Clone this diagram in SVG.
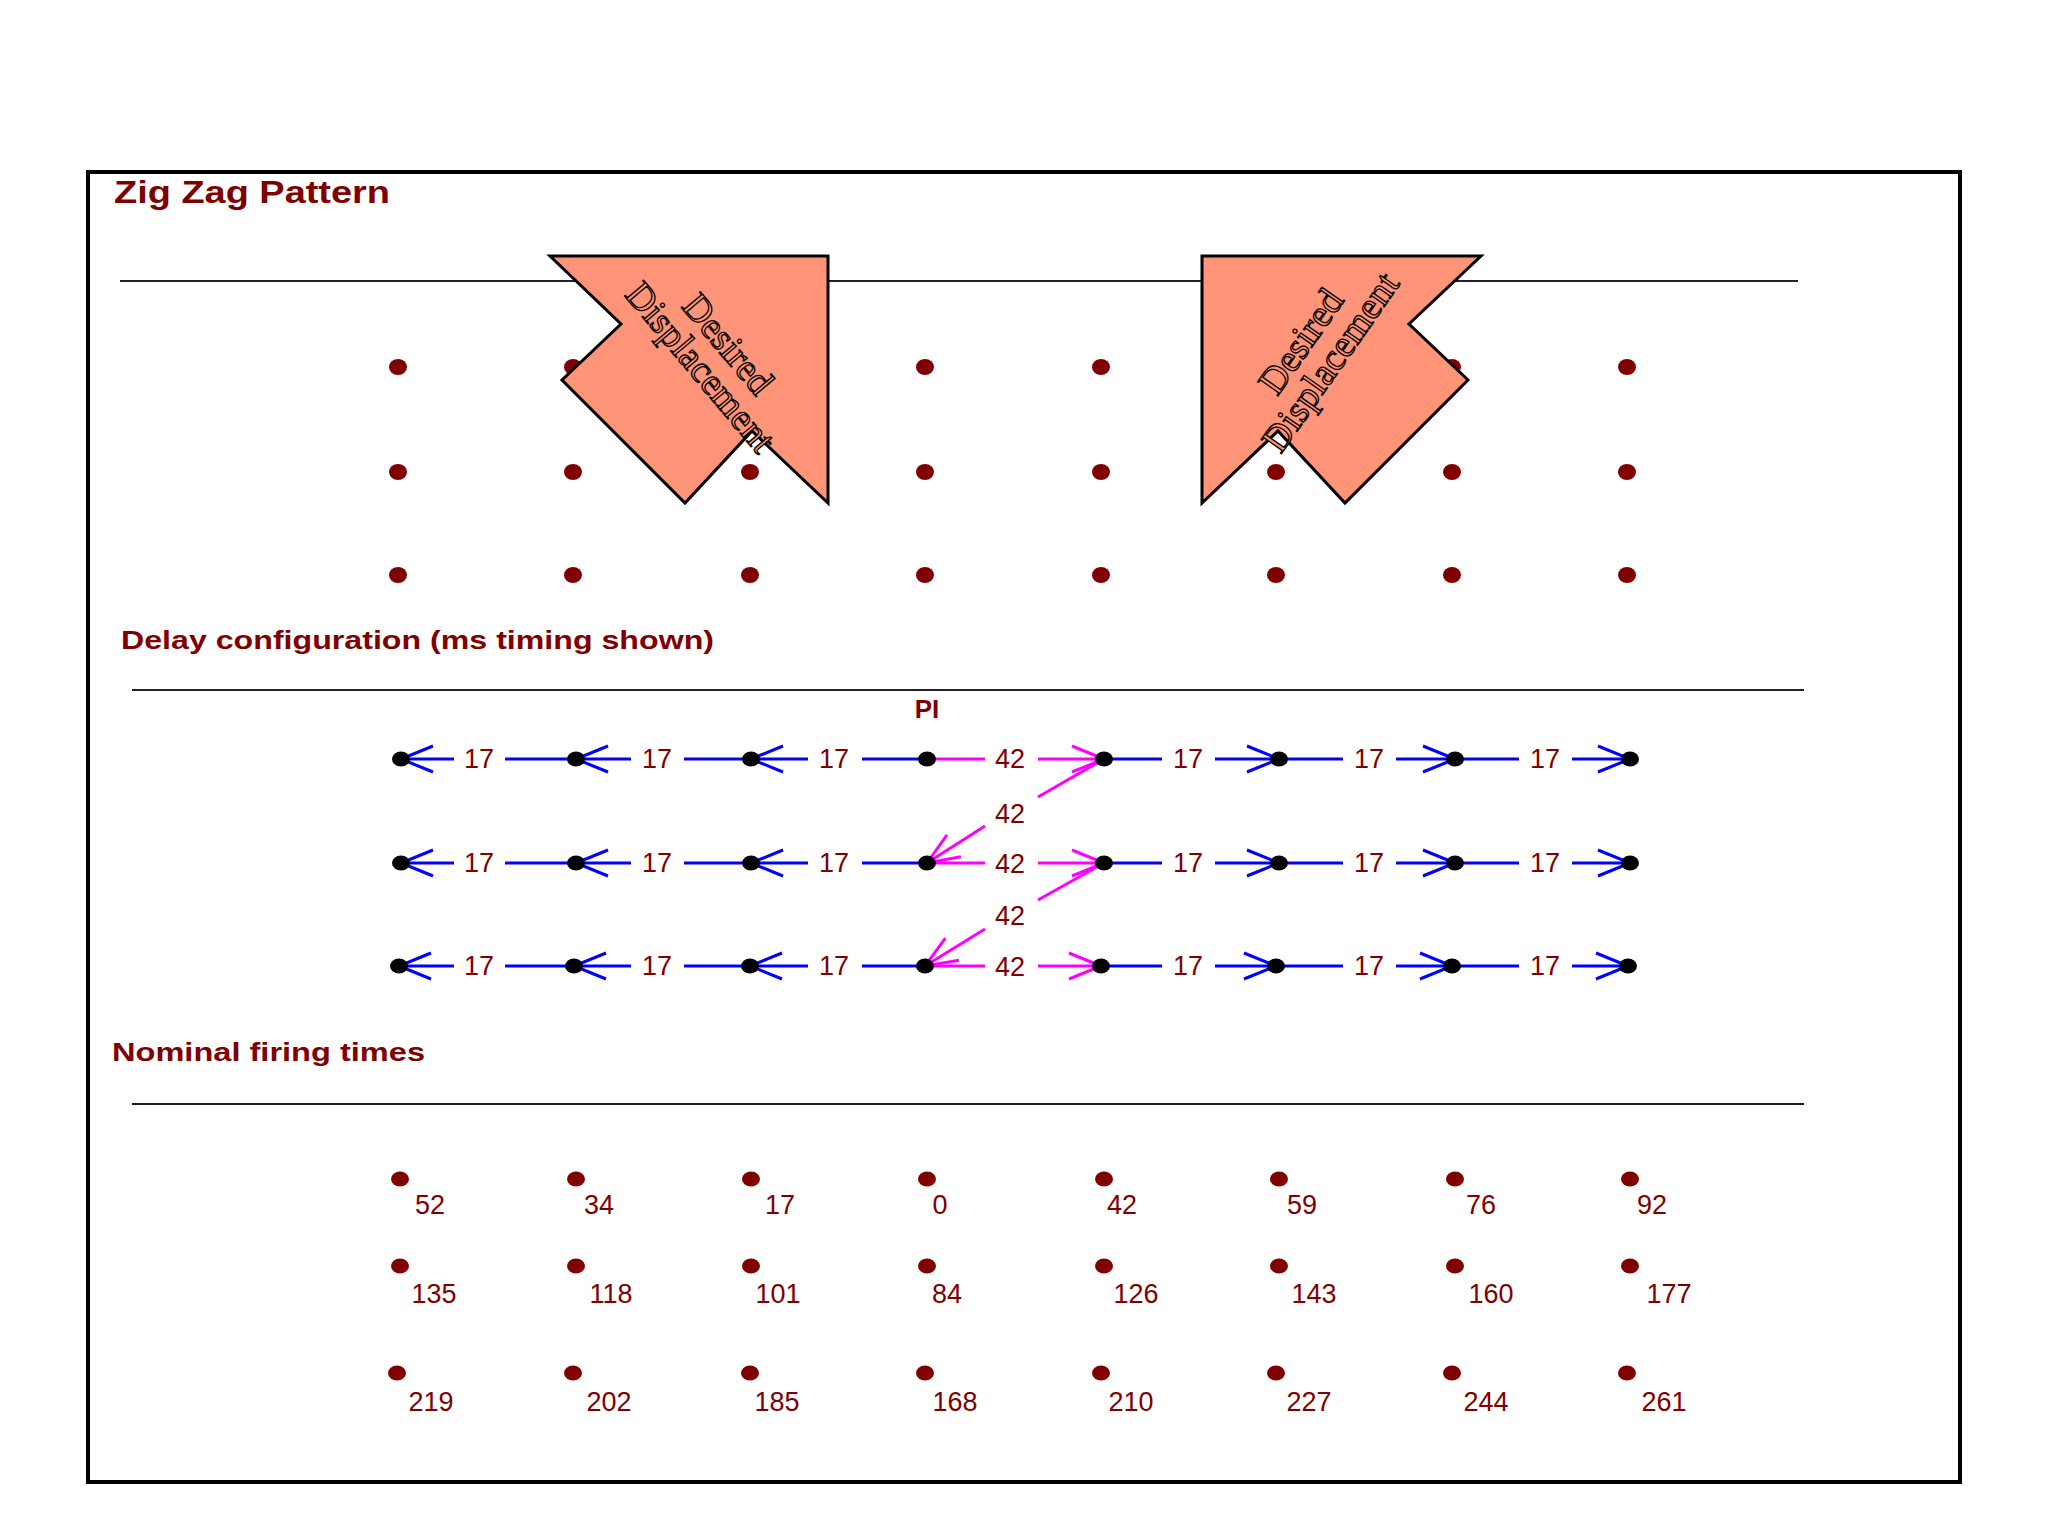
<svg xmlns="http://www.w3.org/2000/svg" width="2048" height="1536" viewBox="0 0 2048 1536">
<style>
.h{font-family:"Liberation Sans",Arial,sans-serif;font-weight:bold;fill:#800000}
.n{font-family:"Liberation Sans",Arial,sans-serif;font-size:27px;fill:#800000;text-anchor:middle}
.dd{fill:#800000}
.bl{stroke:#0000ff;stroke-width:3;fill:none}
.mg{stroke:#ff00ff;stroke-width:3;fill:none}
.rule{stroke:#222;stroke-width:2}
.dt{font-family:"Liberation Serif","Times New Roman",serif;font-size:38px;fill:#ff9478;stroke:#000;stroke-width:1.3;text-anchor:middle}
</style>
<defs>
<marker id="ab" markerUnits="userSpaceOnUse" markerWidth="40" markerHeight="30" refX="34" refY="15" orient="auto" viewBox="0 0 40 30"><path d="M2,2 L34,15 L2,28" fill="none" stroke="#0000ff" stroke-width="3"/></marker>
<marker id="am" markerUnits="userSpaceOnUse" markerWidth="40" markerHeight="30" refX="34" refY="15" orient="auto" viewBox="0 0 40 30"><path d="M2,2 L34,15 L2,28" fill="none" stroke="#ff00ff" stroke-width="3"/></marker>
</defs>
<rect x="0" y="0" width="2048" height="1536" fill="#fff"/>
<rect x="88" y="172" width="1872" height="1310" fill="none" stroke="#000" stroke-width="4"/>
<text class="h" x="114" y="203" font-size="31" textLength="276" lengthAdjust="spacingAndGlyphs">Zig Zag Pattern</text>
<line class="rule" x1="120" y1="281" x2="1798" y2="281"/>
<g id="grid-top" class="dd">
<ellipse cx="398" cy="367" rx="9" ry="8"/><ellipse cx="573" cy="367" rx="9" ry="8"/><ellipse cx="925" cy="367" rx="9" ry="8"/><ellipse cx="1101" cy="367" rx="9" ry="8"/><ellipse cx="1452" cy="367" rx="9" ry="8"/><ellipse cx="1627" cy="367" rx="9" ry="8"/>
<ellipse cx="398" cy="472" rx="9" ry="8"/><ellipse cx="573" cy="472" rx="9" ry="8"/><ellipse cx="750" cy="472" rx="9" ry="8"/><ellipse cx="925" cy="472" rx="9" ry="8"/><ellipse cx="1101" cy="472" rx="9" ry="8"/><ellipse cx="1276" cy="472" rx="9" ry="8"/><ellipse cx="1452" cy="472" rx="9" ry="8"/><ellipse cx="1627" cy="472" rx="9" ry="8"/>
<ellipse cx="398" cy="575" rx="9" ry="8"/><ellipse cx="573" cy="575" rx="9" ry="8"/><ellipse cx="750" cy="575" rx="9" ry="8"/><ellipse cx="925" cy="575" rx="9" ry="8"/><ellipse cx="1101" cy="575" rx="9" ry="8"/><ellipse cx="1276" cy="575" rx="9" ry="8"/><ellipse cx="1452" cy="575" rx="9" ry="8"/><ellipse cx="1627" cy="575" rx="9" ry="8"/>
</g>
<g id="arrow1">
<polygon points="550,256 828,256 828,503 752,431 685,503 562,380 621,324" fill="#ff9478" stroke="#000" stroke-width="3"/>
<g transform="translate(714,356) rotate(50)"><text class="dt" x="0" y="-6">Desired</text><text class="dt" x="0" y="30">Displacement</text></g>
</g>
<g id="arrow2">
<polygon points="1202,256 1481,256 1409,324 1468,380 1345,503 1278,431 1202,503" fill="#ff9478" stroke="#000" stroke-width="3"/>
<g transform="translate(1316,352) rotate(-55)"><text class="dt" x="0" y="-6">Desired</text><text class="dt" x="0" y="30">Displacement</text></g>
</g>
<text class="h" x="121" y="649" font-size="26" textLength="593" lengthAdjust="spacingAndGlyphs">Delay configuration (ms timing shown)</text>
<line class="rule" x1="132" y1="690" x2="1804" y2="690"/>
<text class="h" x="927" y="718" font-size="26" text-anchor="middle">PI</text>
<g id="connectors">
<g id="row1">
<line class="bl" x1="576" y1="759" x2="505" y2="759"/><line class="bl" x1="454" y1="759" x2="401" y2="759" marker-end="url(#ab)"/>
<line class="bl" x1="751" y1="759" x2="684" y2="759"/><line class="bl" x1="631" y1="759" x2="576" y2="759" marker-end="url(#ab)"/>
<line class="bl" x1="927" y1="759" x2="862" y2="759"/><line class="bl" x1="808" y1="759" x2="751" y2="759" marker-end="url(#ab)"/>
<line class="mg" x1="927" y1="759" x2="985" y2="759"/><line class="mg" x1="1038" y1="759" x2="1104" y2="759" marker-end="url(#am)"/>
<line class="bl" x1="1104" y1="759" x2="1162" y2="759"/><line class="bl" x1="1215" y1="759" x2="1279" y2="759" marker-end="url(#ab)"/>
<line class="bl" x1="1279" y1="759" x2="1343" y2="759"/><line class="bl" x1="1396" y1="759" x2="1455" y2="759" marker-end="url(#ab)"/>
<line class="bl" x1="1455" y1="759" x2="1519" y2="759"/><line class="bl" x1="1572" y1="759" x2="1630" y2="759" marker-end="url(#ab)"/>
</g>
<g id="row2">
<line class="bl" x1="576" y1="863" x2="505" y2="863"/><line class="bl" x1="454" y1="863" x2="401" y2="863" marker-end="url(#ab)"/>
<line class="bl" x1="751" y1="863" x2="684" y2="863"/><line class="bl" x1="631" y1="863" x2="576" y2="863" marker-end="url(#ab)"/>
<line class="bl" x1="927" y1="863" x2="862" y2="863"/><line class="bl" x1="808" y1="863" x2="751" y2="863" marker-end="url(#ab)"/>
<line class="mg" x1="927" y1="863" x2="985" y2="863"/><line class="mg" x1="1038" y1="863" x2="1104" y2="863" marker-end="url(#am)"/>
<line class="bl" x1="1104" y1="863" x2="1162" y2="863"/><line class="bl" x1="1215" y1="863" x2="1279" y2="863" marker-end="url(#ab)"/>
<line class="bl" x1="1279" y1="863" x2="1343" y2="863"/><line class="bl" x1="1396" y1="863" x2="1455" y2="863" marker-end="url(#ab)"/>
<line class="bl" x1="1455" y1="863" x2="1519" y2="863"/><line class="bl" x1="1572" y1="863" x2="1630" y2="863" marker-end="url(#ab)"/>
</g>
<g id="row3">
<line class="bl" x1="574" y1="966" x2="505" y2="966"/><line class="bl" x1="454" y1="966" x2="399" y2="966" marker-end="url(#ab)"/>
<line class="bl" x1="750" y1="966" x2="684" y2="966"/><line class="bl" x1="631" y1="966" x2="574" y2="966" marker-end="url(#ab)"/>
<line class="bl" x1="925" y1="966" x2="862" y2="966"/><line class="bl" x1="808" y1="966" x2="750" y2="966" marker-end="url(#ab)"/>
<line class="mg" x1="925" y1="966" x2="985" y2="966"/><line class="mg" x1="1038" y1="966" x2="1101" y2="966" marker-end="url(#am)"/>
<line class="bl" x1="1101" y1="966" x2="1162" y2="966"/><line class="bl" x1="1215" y1="966" x2="1276" y2="966" marker-end="url(#ab)"/>
<line class="bl" x1="1276" y1="966" x2="1343" y2="966"/><line class="bl" x1="1396" y1="966" x2="1452" y2="966" marker-end="url(#ab)"/>
<line class="bl" x1="1452" y1="966" x2="1519" y2="966"/><line class="bl" x1="1572" y1="966" x2="1628" y2="966" marker-end="url(#ab)"/>
</g>
<g id="diag">
<line class="mg" x1="1104" y1="759" x2="1038" y2="797"/><line class="mg" x1="985" y1="826" x2="927" y2="863" marker-end="url(#am)"/>
<line class="mg" x1="1104" y1="863" x2="1038" y2="900"/><line class="mg" x1="985" y1="929" x2="925" y2="966" marker-end="url(#am)"/>
</g>
</g>
<g id="labels" class="n">
<text x="479" y="768">17</text><text x="657" y="768">17</text><text x="834" y="768">17</text><text x="1010" y="768">42</text><text x="1188" y="768">17</text><text x="1369" y="768">17</text><text x="1545" y="768">17</text>
<text x="1010" y="823">42</text>
<text x="479" y="872">17</text><text x="657" y="872">17</text><text x="834" y="872">17</text><text x="1010" y="873">42</text><text x="1188" y="872">17</text><text x="1369" y="872">17</text><text x="1545" y="872">17</text>
<text x="1010" y="925">42</text>
<text x="479" y="975">17</text><text x="657" y="975">17</text><text x="834" y="975">17</text><text x="1010" y="976">42</text><text x="1188" y="975">17</text><text x="1369" y="975">17</text><text x="1545" y="975">17</text>
</g>
<g id="nodes" fill="#000">
<ellipse cx="401" cy="759" rx="9" ry="7.5"/><ellipse cx="576" cy="759" rx="9" ry="7.5"/><ellipse cx="751" cy="759" rx="9" ry="7.5"/><ellipse cx="927" cy="759" rx="9" ry="7.5"/><ellipse cx="1104" cy="759" rx="9" ry="7.5"/><ellipse cx="1279" cy="759" rx="9" ry="7.5"/><ellipse cx="1455" cy="759" rx="9" ry="7.5"/><ellipse cx="1630" cy="759" rx="9" ry="7.5"/>
<ellipse cx="401" cy="863" rx="9" ry="7.5"/><ellipse cx="576" cy="863" rx="9" ry="7.5"/><ellipse cx="751" cy="863" rx="9" ry="7.5"/><ellipse cx="927" cy="863" rx="9" ry="7.5"/><ellipse cx="1104" cy="863" rx="9" ry="7.5"/><ellipse cx="1279" cy="863" rx="9" ry="7.5"/><ellipse cx="1455" cy="863" rx="9" ry="7.5"/><ellipse cx="1630" cy="863" rx="9" ry="7.5"/>
<ellipse cx="399" cy="966" rx="9" ry="7.5"/><ellipse cx="574" cy="966" rx="9" ry="7.5"/><ellipse cx="750" cy="966" rx="9" ry="7.5"/><ellipse cx="925" cy="966" rx="9" ry="7.5"/><ellipse cx="1101" cy="966" rx="9" ry="7.5"/><ellipse cx="1276" cy="966" rx="9" ry="7.5"/><ellipse cx="1452" cy="966" rx="9" ry="7.5"/><ellipse cx="1628" cy="966" rx="9" ry="7.5"/>
</g>
<text class="h" x="112" y="1061" font-size="26" textLength="313" lengthAdjust="spacingAndGlyphs">Nominal firing times</text>
<line class="rule" x1="132" y1="1104" x2="1804" y2="1104"/>
<g id="firing" class="dd">
<ellipse cx="400" cy="1179" rx="9" ry="7.5"/><ellipse cx="576" cy="1179" rx="9" ry="7.5"/><ellipse cx="751" cy="1179" rx="9" ry="7.5"/><ellipse cx="927" cy="1179" rx="9" ry="7.5"/><ellipse cx="1104" cy="1179" rx="9" ry="7.5"/><ellipse cx="1279" cy="1179" rx="9" ry="7.5"/><ellipse cx="1455" cy="1179" rx="9" ry="7.5"/><ellipse cx="1630" cy="1179" rx="9" ry="7.5"/>
<ellipse cx="400" cy="1266" rx="9" ry="7.5"/><ellipse cx="576" cy="1266" rx="9" ry="7.5"/><ellipse cx="751" cy="1266" rx="9" ry="7.5"/><ellipse cx="927" cy="1266" rx="9" ry="7.5"/><ellipse cx="1104" cy="1266" rx="9" ry="7.5"/><ellipse cx="1279" cy="1266" rx="9" ry="7.5"/><ellipse cx="1455" cy="1266" rx="9" ry="7.5"/><ellipse cx="1630" cy="1266" rx="9" ry="7.5"/>
<ellipse cx="397" cy="1373" rx="9" ry="7.5"/><ellipse cx="573" cy="1373" rx="9" ry="7.5"/><ellipse cx="750" cy="1373" rx="9" ry="7.5"/><ellipse cx="925" cy="1373" rx="9" ry="7.5"/><ellipse cx="1101" cy="1373" rx="9" ry="7.5"/><ellipse cx="1276" cy="1373" rx="9" ry="7.5"/><ellipse cx="1452" cy="1373" rx="9" ry="7.5"/><ellipse cx="1627" cy="1373" rx="9" ry="7.5"/>
</g>
<g id="firing-labels" class="n">
<text x="430" y="1214">52</text><text x="599" y="1214">34</text><text x="780" y="1214">17</text><text x="940" y="1214">0</text><text x="1122" y="1214">42</text><text x="1302" y="1214">59</text><text x="1481" y="1214">76</text><text x="1652" y="1214">92</text>
<text x="434" y="1303">135</text><text x="611" y="1303">118</text><text x="778" y="1303">101</text><text x="947" y="1303">84</text><text x="1136" y="1303">126</text><text x="1314" y="1303">143</text><text x="1491" y="1303">160</text><text x="1669" y="1303">177</text>
<text x="431" y="1411">219</text><text x="609" y="1411">202</text><text x="777" y="1411">185</text><text x="955" y="1411">168</text><text x="1131" y="1411">210</text><text x="1309" y="1411">227</text><text x="1486" y="1411">244</text><text x="1664" y="1411">261</text>
</g>
</svg>
